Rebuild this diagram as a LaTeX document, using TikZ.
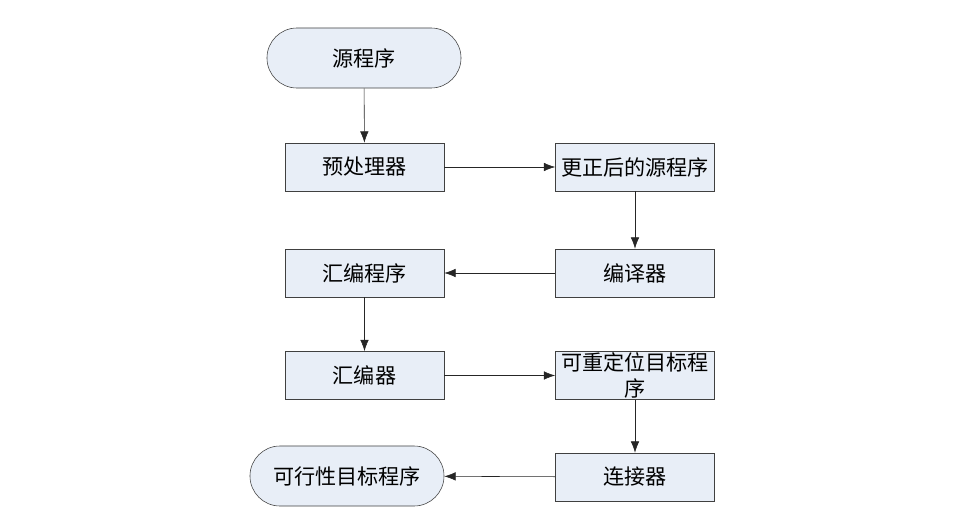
\documentclass[tikz,border=0pt]{standalone}
\usepackage{fontspec}
\setmainfont{Noto Sans CJK SC}
\usetikzlibrary{arrows.meta}
\tikzset{
	stepbox/.style={draw=black!75, fill=boxfill, minimum width=3.975cm, minimum height=1.2cm, inner sep=1pt, font=\fontsize{15}{17}\selectfont},
	endbox/.style={stepbox, rounded corners=0.75cm, minimum width=4.85cm, minimum height=1.5cm},
	flow/.style={-{Latex[length=8pt,width=6pt]}, black!85}
}
\definecolor{boxfill}{HTML}{E8EEF7}
\begin{document}
\begin{tikzpicture}[x=0.025cm,y=-0.025cm]
	\useasboundingbox (0,0) rectangle (955,512);
	% left column
	\node [endbox] (src) at (364,58) {源程序};
	\node [stepbox] (pre) at (364.5,167) {预处理器};
	\node [stepbox] (asmsrc) at (364.5,273) {汇编程序};
	\node [stepbox] (asm) at (364.5,375.5) {汇编器};
	\node [endbox] (exe) at (347,476) {可行性目标程序};
	% right column
	\node [stepbox] (fixed) at (635,167) {更正后的源程序};
	\node [stepbox] (comp) at (635,273) {编译器};
	\node [stepbox, align=center, inner sep=0pt, font=\fontsize{15}{19}\selectfont] (obj) at (635,375.5) {可重定位目标程\\序};
	\node [stepbox] (link) at (635,477) {连接器};

	\draw [flow] (src) -- (pre);
	\draw [flow] (pre) -- (fixed);
	\draw [flow] (fixed) -- (comp);
	\draw [flow] (comp) -- (asmsrc);
	\draw [flow] (asmsrc) -- (asm);
	\draw [flow] (asm.east) -- (asm.east -| obj.west);
	\draw [flow] (obj) -- (link);
	\draw [flow] (link) -- (exe);
\end{tikzpicture}
\end{document}
